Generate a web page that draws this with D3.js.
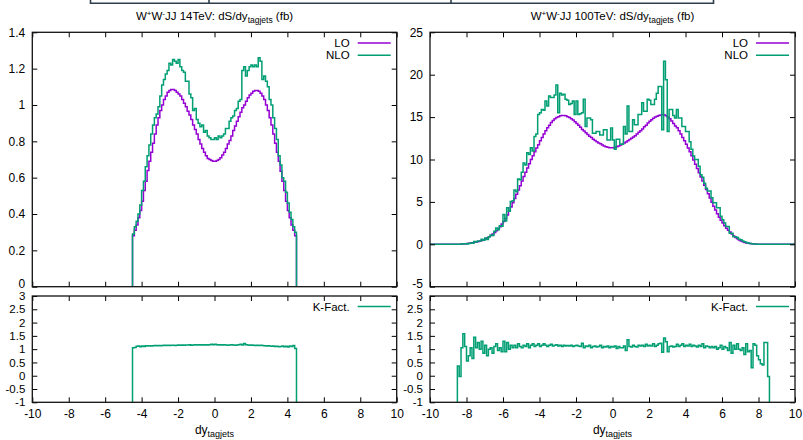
<!DOCTYPE html>
<html>
<head>
<meta charset="utf-8">
<style>
  body { margin: 0; background: #fff; }
  text { font-family: "Liberation Sans", Arial, sans-serif; fill: #000; }
</style>
</head>
<body>
<script src="https://cdn.jsdelivr.net/npm/d3@7"></script>
<script>
// bin width of every histogram (dy units)
const binWidth = 0.1;

// 14 TeV: bins from -4.5 to 4.5
const dy14Start = -4.5;
const lo14 = [
  0.28,0.31,0.34,0.38,0.42,0.47,0.53,0.58,0.64,0.69,
  0.74,0.79,0.84,0.89,0.93,0.97,1.00,1.03,1.05,1.07,
  1.08,1.085,1.085,1.08,1.07,1.06,1.05,1.03,1.01,0.99,
  0.965,0.945,0.92,0.89,0.865,0.84,0.81,0.785,0.76,0.74,
  0.72,0.705,0.70,0.695,0.69,0.69,0.695,0.70,0.71,0.725,
  0.74,0.76,0.785,0.805,0.83,0.86,0.885,0.91,0.935,0.96,
  0.985,1.00,1.02,1.04,1.055,1.065,1.075,1.08,1.08,1.075,
  1.065,1.05,1.03,1.00,0.97,0.93,0.89,0.84,0.79,0.74,
  0.69,0.635,0.58,0.53,0.47,0.42,0.38,0.34,0.31,0.28
];
const nlo14 = [
  0.29,0.33,0.36,0.40,0.45,0.53,0.58,0.66,0.72,0.78,
  0.84,0.89,0.93,0.95,0.99,1.05,1.11,1.14,1.17,1.19,
  1.23,1.22,1.25,1.24,1.23,1.25,1.21,1.19,1.18,1.13,
  1.13,1.06,1.04,0.97,0.98,0.92,0.90,0.88,0.89,0.85,
  0.86,0.83,0.82,0.81,0.81,0.82,0.81,0.83,0.82,0.83,
  0.84,0.87,0.87,0.91,0.93,0.94,0.97,0.98,1.02,1.03,
  1.19,1.21,1.16,1.19,1.21,1.22,1.21,1.22,1.21,1.26,
  1.24,1.14,1.16,1.13,1.10,1.03,1.00,0.93,0.87,0.81,
  0.72,0.67,0.60,0.58,0.52,0.46,0.41,0.37,0.33,0.30
];
const kfac14 = [
  1.05,1.06,1.11,1.12,1.09,1.12,1.10,1.13,1.12,1.13,
  1.12,1.13,1.14,1.13,1.14,1.13,1.14,1.15,1.14,1.15,
  1.14,1.15,1.15,1.14,1.15,1.16,1.15,1.16,1.15,1.16,
  1.16,1.17,1.15,1.16,1.17,1.16,1.17,1.16,1.17,1.16,
  1.17,1.16,1.17,1.18,1.17,1.18,1.17,1.16,1.17,1.16,
  1.17,1.16,1.15,1.16,1.17,1.16,1.15,1.16,1.17,1.18,
  1.16,1.21,1.17,1.16,1.15,1.16,1.15,1.14,1.15,1.14,
  1.15,1.14,1.13,1.12,1.13,1.12,1.11,1.12,1.10,1.11,
  1.09,1.10,1.12,1.09,1.11,1.08,1.12,1.10,1.14,1.02
];

// 100 TeV: bins from -8.5 to 8.6 (zero outside)
const dy100Start = -8.5;
const lo100 = [
  0.01,0.02,0.03,0.04,0.06,0.08,0.11,0.14,0.18,0.23,
  0.26,0.32,0.38,0.46,0.55,0.65,0.77,0.9,1.05,1.22,
  1.4,1.6,1.82,2.08,2.38,2.7,3.05,3.45,3.9,4.4,
  4.9,5.4,5.9,6.4,6.9,7.45,8.0,8.5,9.0,9.5,
  10.0,10.45,10.9,11.35,11.75,12.2,12.6,13.0,13.4,13.75,
  14.05,14.35,14.6,14.8,14.95,15.05,15.15,15.2,15.2,15.15,
  15.05,14.95,14.8,14.65,14.45,14.25,14.05,13.8,13.55,13.35,
  13.15,12.95,12.75,12.6,12.4,12.25,12.1,11.95,11.85,11.7,
  11.6,11.5,11.45,11.4,11.4,11.4,11.45,11.5,11.6,11.7,
  11.8,11.95,12.05,12.2,12.35,12.5,12.65,12.8,13.0,13.2,
  13.4,13.6,13.85,14.05,14.3,14.5,14.7,14.85,15.0,15.1,
  15.2,15.25,15.3,15.25,15.15,15.0,14.8,14.55,14.25,13.95,
  13.75,13.4,13.0,12.6,12.2,11.8,11.35,10.9,10.45,9.95,
  9.45,8.95,8.45,7.95,7.45,6.95,6.45,5.95,5.45,4.95,
  4.5,4.05,3.6,3.2,2.85,2.5,2.2,1.9,1.65,1.45,
  1.2,0.98,0.8,0.64,0.5,0.39,0.3,0.22,0.16,0.12,
  0.08,0.06,0.04,0.03,0.02,0.015,0.01,0.008,0.005,0.003,
  0.002
];
const nlo100 = [
  0.01,0.01,0.03,0.06,0.07,0.05,0.08,0.15,0.12,0.33,
  0.27,0.4,0.38,0.6,0.47,0.75,0.58,0.9,1.1,1.04,
  1.54,1.92,1.73,2.18,2.14,3.51,2.75,4.31,3.9,5.06,
  5.15,6.4,6.2,7.7,7.6,8.5,9.6,9.35,10.8,10.6,
  11.4,11.0,12.7,13.0,15.3,15.5,15.9,15.8,16.9,16.3,
  17.5,17.3,17.3,17.6,18.8,15.5,17.8,17.6,17.7,17.1,
  17.0,16.5,16.6,16.9,15.3,16.9,15.3,15.4,15.5,17.1,
  13.9,14.9,14.9,14.7,13.1,13.1,13.3,13.3,12.9,12.9,
  13.5,13.5,12.3,12.3,13.7,12.3,11.2,12.4,12.4,11.8,
  11.8,13.9,13.0,16.3,13.3,13.3,14.7,14.1,14.1,15.3,
  15.3,16.7,15.7,15.7,17.1,17.0,16.5,16.5,17.1,17.8,
  18.6,18.6,13.5,21.6,19.4,13.3,15.9,15.9,15.2,14.9,
  15.9,14.9,14.9,13.9,13.9,13.3,13.3,12.1,11.2,10.4,
  10.0,10.0,9.2,8.2,7.9,7.2,6.6,6.3,6.3,5.5,
  4.9,4.9,4.3,4.3,3.3,2.9,2.5,2.1,2.1,1.3,
  1.3,0.9,0.9,0.8,0.6,0.55,0.4,0.3,0.2,0.15,
  0.1,0.06,0.05,0.03,0.02,0.01,0.01,0.005,0.005,0.003,
  0.002
];
const kfac100 = [
  0.37,-0.03,1.05,1.58,1.1,0.55,0.75,1.05,0.65,1.45,
  1.05,1.25,1.0,1.3,0.85,1.15,0.75,1.0,1.05,0.85,
  1.1,1.2,0.95,1.05,0.9,1.3,0.9,1.25,1.0,1.15,
  1.05,1.15,1.05,1.2,1.1,1.05,1.15,1.1,1.2,1.05,
  1.15,1.2,1.1,1.15,1.2,1.1,1.15,1.2,1.15,1.1,
  1.15,1.18,1.12,1.15,1.17,1.12,1.15,1.1,1.15,1.12,
  1.14,1.12,1.15,1.1,1.13,1.15,1.12,1.1,1.22,1.05,
  1.12,1.1,1.15,1.05,1.1,1.12,1.08,1.1,1.15,1.05,
  1.1,1.08,1.12,1.05,1.1,1.08,1.12,1.02,1.1,1.05,
  1.05,1.12,0.95,1.35,1.1,1.08,1.15,1.1,1.08,1.15,
  1.12,1.15,1.1,1.18,1.12,1.15,1.12,1.2,1.1,1.15,
  1.2,1.22,0.88,1.42,1.28,0.9,1.1,1.12,1.08,1.1,
  1.18,1.1,1.15,1.2,1.1,1.15,1.12,1.18,1.1,1.15,
  1.12,1.08,1.15,1.1,1.2,1.05,1.12,1.1,1.05,1.1,
  1.05,1.1,1.0,1.05,1.15,1.0,1.1,1.05,0.95,1.25,
  0.85,1.15,1.0,1.2,1.0,0.95,1.05,0.8,1.2,0.9,
  0.95,0.3,1.2,1.15,0.75,0.6,0.45,0.4,1.25,1.25,
  -0.03
];

const xTicks = [-10, -8, -6, -4, -2, 0, 2, 4, 6, 8, 10];
const yTicks14 = [0, 0.2, 0.4, 0.6, 0.8, 1, 1.2, 1.4];
const yTicks100 = [-5, 0, 5, 10, 15, 20, 25];
const kTicks = [-1, -0.5, 0, 0.5, 1, 1.5, 2, 2.5, 3];
const energies = ['14TeV', '100TeV'];
const seriesNames = ['LO', 'NLO'];
const kName = 'K-Fact.';

const colLO = '#9400d3';
const colNLO = '#009e73';

// gnuplot style labels: plain hyphen, no trailing zeros
const plain = d => String(+d.toFixed(2));

const svg = d3.select('body').append('svg')
  .attr('width', 803)
  .attr('height', 440);

// remains of a table border at the very top
svg.append('path')
  .attr('d', 'M90.5,0V3.2H713.5V0M209,0V3.2M451,0V3.2')
  .attr('fill', 'none')
  .attr('stroke', '#2e3d4c')
  .attr('stroke-width', 1.6);

const topY = [32.3, 286.7];
const botY = [296, 402.3];

const panels = [
  { x0: 32.3, x1: 396.7, energy: energies[0], lo: lo14, nlo: nlo14, k: kfac14,
    start: dy14Start, yDom: [0, 1.4], yTicks: yTicks14, pad: false },
  { x0: 430, x1: 795, energy: energies[1], lo: lo100, nlo: nlo100, k: kfac100,
    start: dy100Start, yDom: [-5, 25], yTicks: yTicks100, pad: true }
];

function stepPoints(start, vals, base, xMin, xMax) {
  const pts = [];
  if (xMin !== undefined) pts.push([xMin, base]);
  pts.push([start, base]);
  vals.forEach((v, i) => {
    pts.push([start + i * binWidth, v]);
    pts.push([start + (i + 1) * binWidth, v]);
  });
  pts.push([start + vals.length * binWidth, base]);
  if (xMax !== undefined) pts.push([xMax, base]);
  return pts;
}

function frameAxes(g, x, y, yTicks, showX, yShift, fontSize) {
  const [ya, yb] = y.range();
  const [xa, xb] = x.range();
  const ax = g.append('g');
  const xb0 = ax.append('g').attr('transform', `translate(0,${ya})`)
    .call(d3.axisBottom(x).tickValues(xTicks).tickSizeInner(-5).tickSizeOuter(0)
      .tickPadding(7.5).tickFormat(showX ? plain : ''));
  ax.append('g').attr('transform', `translate(0,${yb})`)
    .call(d3.axisTop(x).tickValues(xTicks).tickSizeInner(-5).tickSizeOuter(0).tickFormat(''));
  const yl = ax.append('g').attr('transform', `translate(${xa},0)`)
    .call(d3.axisLeft(y).tickValues(yTicks).tickSizeInner(-5).tickSizeOuter(0)
      .tickPadding(7).tickFormat(plain));
  ax.append('g').attr('transform', `translate(${xb},0)`)
    .call(d3.axisRight(y).tickValues(yTicks).tickSizeInner(-5).tickSizeOuter(0).tickFormat(''));
  ax.selectAll('.domain').remove();
  ax.selectAll('.tick line').attr('stroke', '#000');
  ax.selectAll('.tick text')
    .style('font-family', '"Liberation Sans", Arial, sans-serif')
    .style('font-size', '12px')
    .attr('fill', '#000');
  yl.selectAll('.tick text').style('font-size', fontSize);
  // nudge the end labels where the two panels meet
  yl.selectAll('.tick text')
    .filter(d => d === yShift.value)
    .attr('dy', yShift.dy);
  return ax;
}

function frame(g, x, y) {
  g.append('rect')
    .attr('x', x.range()[0]).attr('y', y.range()[1])
    .attr('width', x.range()[1] - x.range()[0])
    .attr('height', y.range()[0] - y.range()[1])
    .attr('fill', 'none').attr('stroke', '#111').attr('stroke-width', 1.3);
}

function legendEntry(g, xRight, yPos, label, color) {
  g.append('text').attr('x', xRight - 47).attr('y', yPos + 4)
    .attr('text-anchor', 'end').style('font-size', '11.5px').text(label);
  g.append('line').attr('x1', xRight - 39).attr('x2', xRight - 6)
    .attr('y1', yPos).attr('y2', yPos)
    .attr('stroke', color).attr('stroke-width', 1.5);
}

panels.forEach((p, pi) => {
  const g = svg.append('g');
  const x = d3.scaleLinear().domain([-10, 10]).range([p.x0, p.x1]);
  const y = d3.scaleLinear().domain(p.yDom).range(topY.slice().reverse());
  const yk = d3.scaleLinear().domain([-1, 3]).range(botY.slice().reverse());

  const clipTop = 'clipTop' + pi, clipBot = 'clipBot' + pi;
  svg.append('clipPath').attr('id', clipTop).append('rect')
    .attr('x', p.x0).attr('y', topY[0]).attr('width', p.x1 - p.x0).attr('height', topY[1] - topY[0]);
  svg.append('clipPath').attr('id', clipBot).append('rect')
    .attr('x', p.x0).attr('y', botY[0]).attr('width', p.x1 - p.x0).attr('height', botY[1] - botY[0]);

  const line = d3.line().x(d => x(d[0])).y(d => y(d[1]));
  const lineK = d3.line().x(d => x(d[0])).y(d => yk(d[1]));

  const xMin = p.pad ? -10 : undefined, xMax = p.pad ? 10 : undefined;

  // top: LO and NLO histograms
  const gt = g.append('g').attr('clip-path', `url(#${clipTop})`);
  gt.append('path').attr('d', line(stepPoints(p.start, p.lo, 0, xMin, xMax)))
    .attr('fill', 'none').attr('stroke', colLO).attr('stroke-width', 1.5);
  gt.append('path').attr('d', line(stepPoints(p.start, p.nlo, 0, xMin, xMax)))
    .attr('fill', 'none').attr('stroke', colNLO).attr('stroke-width', 1.5);

  frameAxes(g, x, y, p.yTicks, false, { value: p.yDom[0], dy: '0.05em' }, '12px');
  frame(g, x, y);

  legendEntry(g, p.x1, 43, seriesNames[0], colLO);
  legendEntry(g, p.x1, 55.3, seriesNames[1], colNLO);

  // bottom: K-factor
  const gb = g.append('g').attr('clip-path', `url(#${clipBot})`);
  gb.append('path').attr('d', lineK(stepPoints(p.start, p.k, -1.5)))
    .attr('fill', 'none').attr('stroke', colNLO).attr('stroke-width', 1.5);

  frameAxes(g, x, yk, kTicks, true, { value: 3, dy: '0.3em' }, '11.5px');
  frame(g, x, yk);

  legendEntry(g, p.x1, 306.5, kName, colNLO);

  // title
  const cx = (p.x0 + p.x1) / 2;
  const t = g.append('text').attr('x', cx).attr('y', 20).attr('text-anchor', 'middle')
    .style('font-size', '11.5px');
  t.append('tspan').text('W');
  t.append('tspan').attr('dy', -4).style('font-size', '8px').text('+');
  t.append('tspan').attr('dy', 4).text('W');
  t.append('tspan').attr('dy', -4).style('font-size', '8px').text('-');
  t.append('tspan').attr('dy', 4).text('JJ ' + p.energy + ': dS/dy');
  t.append('tspan').attr('dy', 3).style('font-size', '8.5px').text('tagjets');
  t.append('tspan').attr('dy', -3).text(' (fb)');

  // x label
  const xl = g.append('text').attr('x', cx).attr('y', 434).attr('text-anchor', 'middle')
    .style('font-size', '12px');
  xl.append('tspan').text('dy');
  xl.append('tspan').attr('dy', 3).style('font-size', '9px').text('tagjets');
});
</script>
</body>
</html>
